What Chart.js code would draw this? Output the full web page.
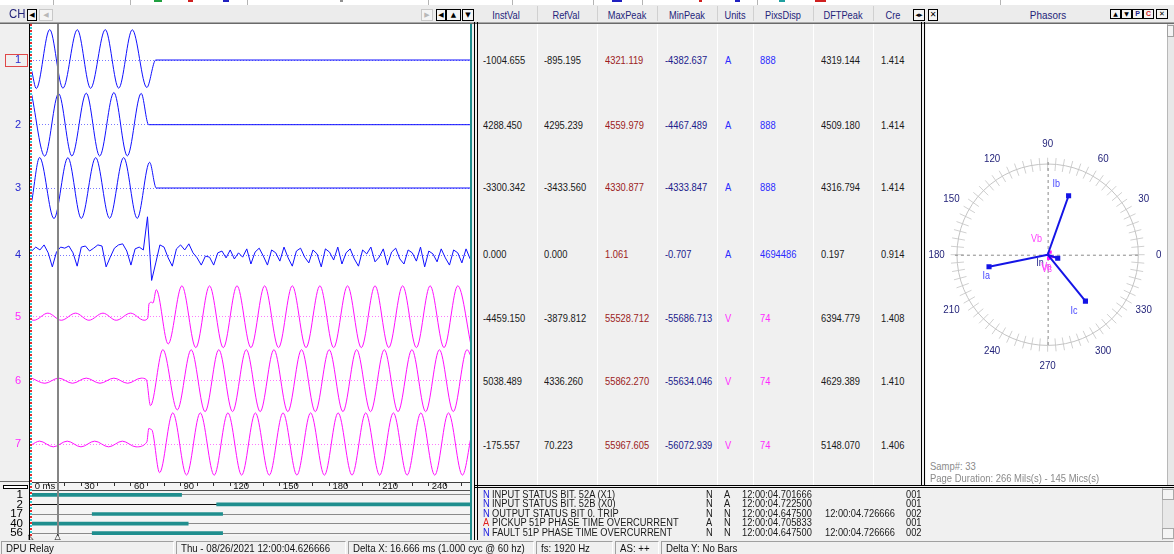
<!DOCTYPE html>
<html>
<head>
<meta charset="utf-8">
<title>DPU Relay</title>
<script src="https://cdn.jsdelivr.net/npm/chart.js@4.4.1/dist/chart.umd.min.js"></script>
<style>
  html, body { margin: 0; padding: 0; }
  body { width: 1174px; height: 554px; position: relative; overflow: hidden; background: #f0f0f0;
         font-family: 'Liberation Sans', Arial, sans-serif; }
  .a { position: absolute; box-sizing: border-box; }
  .t { position: absolute; white-space: nowrap; z-index: 4; transform-origin: 0 50%; }
  canvas { position: absolute; z-index: 2; }
</style>
</head>
<body>
<canvas id="wave" width="471" height="467" style="left:0;top:24px;width:471px;height:467px"></canvas>
<canvas id="dig" width="471" height="48" style="left:0;top:489.5px;width:471px;height:48px"></canvas>
<canvas id="phasor" width="241" height="250" style="left:926px;top:130px;width:241px;height:250px"></canvas>
<script>
// ---- channel values (time in ms, value in A or V) ----
const chLabels = ['1', '2', '3', '4', '5', '6', '7'];

const ch1T = [0, 2.8, 10.9, 18.9, 27.6, 35.6, 44.5, 52.6, 60.8, 69.6, 75.0, 266];
const ch1V = [-1500, -4050, 4321, -4000, 4300, -4020, 4310, -4000, 4290, -3900, 0, 0];

const ch2T = [0, 7.9, 16.3, 24.3, 33.0, 41.1, 49.7, 57.8, 66.2, 70.7, 266];
const ch2V = [4300, -4467, 4420, -4440, 4480, -4450, 4560, -4430, 4450, 0, 0];

const ch3T = [0, 4.8, 13.5, 21.9, 30.0, 38.7, 47.1, 55.6, 63.8, 71.3, 75.3, 266];
const ch3V = [-2000, 4331, -4334, 4300, -4320, 4310, -4300, 4320, -4310, 3650, 0, 0];

// residual channel, one sample every ch4Step ms
const ch4Step = 2.5;
const ch4V = [0.11, 0.22, 0.14, 0.28, 0.06, -0.33, 0.08, 0.22, 0.19, 0.25, 0.06, -0.31, 0.22, 0.25, 0.11, 0.19,
  0.28, 0.25, -0.33, -0.06, 0.19, 0.28, 0.31, 0.11, -0.28, 0.17, 0.22, 0.14, 1.061, -0.707, -0.22, 0.28,
  0.22, -0.08, -0.31, 0.17, 0.28, 0.14, 0.31, 0.06, -0.08, -0.28, -0.03, -0.06, -0.28, 0.06, 0.11, -0.08,
  0.14, -0.11, 0.06, -0.06, 0.17, -0.25, 0.08, 0.19, -0.03, -0.28, 0.14, 0.06, -0.17, 0.22, -0.08, -0.31,
  0.11, 0.19, -0.06, -0.22, 0.14, 0.03, -0.33, 0.17, 0.08, -0.14, 0.22, -0.25, 0.06, 0.17, -0.11, -0.31,
  0.14, 0.03, 0.22, -0.19, -0.06, 0.17, -0.28, 0.08, 0.19, -0.11, -0.25, 0.14, 0.06, -0.17, 0.22, -0.33,
  0.11, 0.03, -0.19, 0.17, -0.08, -0.28, 0.14, 0.06, -0.22, 0.17, -0.11];

const ch5T = [0, 1.4, 9.8, 17.9, 26.6, 34.6, 43.1, 51.1, 59.8, 67.9, 70.2, 70.9, 72.4, 73.3, 75.3, 82.5, 90.8,
  99.2, 107.5, 115.8, 124.1, 132.5, 140.8, 149.2, 157.5, 165.8, 174.2, 182.5, 190.9, 199.2, 207.5, 215.8,
  224.2, 232.5, 240.8, 249.2, 257.5, 265.8];
const ch5V = [-5800, -6400, 6390, -6380, 6400, -6390, 6380, -6400, 6390, -6300, -2500, 23000, 26000, 24500,
  48500, -49000, 55500, -55600, 55400, -55686, 55528, -55500, 55450, -55600, 55500, -55550, 55480, -55600,
  55500, -55650, 55450, -55550, 55500, -55600, 55480, -55500, 55450, -55300];

const ch6T = [0, 8, 16.3, 24.7, 33, 41.3, 49.7, 58, 66.2, 69.3, 71.8, 79.3, 88, 96.4, 104.8, 113.1, 121.4,
  129.7, 138.1, 146.4, 154.8, 163.1, 171.4, 179.8, 188.1, 196.4, 204.8, 213.1, 221.4, 229.8, 238.1, 246.4,
  254.8, 263.1, 266];
const ch6V = [4600, -4629, 4620, -4610, 4629, -4600, 4620, -4610, 4600, 2000, -44800, 55862, -52500, 55600,
  -55634, 55700, -55500, 55800, -55600, 55700, -55550, 55750, -55600, 55650, -55500, 55800, -55600, 55700,
  -55550, 55750, -55634, 55600, -55500, 55700, 40000];

const ch7T = [0, 4.8, 13.1, 21.5, 29.8, 38.1, 46.5, 54.8, 63.1, 69.6, 70.8, 72.0, 72.9, 77.3, 85.3, 93.6,
  101.9, 110.3, 118.6, 126.9, 135.2, 143.6, 151.9, 160.3, 168.6, 176.9, 185.2, 193.6, 201.9, 210.3, 218.6,
  226.9, 235.2, 243.6, 251.9, 260.3, 266];
const ch7V = [-1200, 5148, -5100, 5140, -5120, 5148, -5110, 5130, -5140, 3400, 28000, 26500, 24000, -51500,
  56000, -55800, 55967, -56072, 55900, -55900, 55800, -56000, 55900, -55850, 55950, -56000, 55850, -55900,
  55960, -56050, 55900, -55950, 55850, -56000, 55900, -55900, 20000];

// ---- digital channels (on / off, ms) ----
const digNames = ['1', '2', '17', '40', '56'];
const digStart = [0, 111.8, 36.6, 0, 36.6];
const digEnd = [90.6, 266, 115.4, 94.6, 115.4];

// ---- readout table ----
const colNames = ['InstVal', 'RefVal', 'MaxPeak', 'MinPeak', 'Units', 'PixsDisp', 'DFTPeak', 'Cre'];
const instVal = ['-1004.655', '4288.450', '-3300.342', '0.000', '-4459.150', '5038.489', '-175.557'];
const refVal = ['-895.195', '4295.239', '-3433.560', '0.000', '-3879.812', '4336.260', '70.223'];
const maxPeak = ['4321.119', '4559.979', '4330.877', '1.061', '55528.712', '55862.270', '55967.605'];
const minPeak = ['-4382.637', '-4467.489', '-4333.847', '-0.707', '-55686.713', '-55634.046', '-56072.939'];
const units = ['A', 'A', 'A', 'A', 'V', 'V', 'V'];
const pixsDisp = ['888', '888', '888', '4694486', '74', '74', '74'];
const dftPeak = ['4319.144', '4509.180', '4316.794', '0.197', '6394.779', '4629.389', '5148.070'];
const cre = ['1.414', '1.414', '1.414', '0.914', '1.408', '1.410', '1.406'];

// ---- phasors at the cursor ----
const phName = ['Ia', 'Ib', 'Ic', 'In', 'Va', 'Vb', 'Vc'];
const phMag = [4319.144, 4509.180, 4316.794, 770, 6394.779, 4629.389, 5148.070];
const phAng = [191.6, 70.4, 309.2, 341, 335, 45, 285];
const dialLabels = ['0', '30', '60', '90', '120', '150', '180', '210', '240', '270', '300', '330'];

// ---- event list ----
const evFlag = ['N', 'N', 'N', 'A', 'N'];
const evText = ['INPUT STATUS BIT. 52A (X1)', 'INPUT STATUS BIT. 52B (X0)', 'OUTPUT STATUS BIT 0. TRIP',
  'PICKUP 51P PHASE TIME OVERCURRENT', 'FAULT 51P PHASE TIME OVERCURRENT'];
const evState = ['N', 'N', 'N', 'A', 'N'];
const evInit = ['A', 'A', 'N', 'N', 'N'];
const evOn = ['12:00:04.701666', '12:00:04.722500', '12:00:04.647500', '12:00:04.705833', '12:00:04.647500'];
const evOff = ['', '', '12:00:04.726666', '', '12:00:04.726666'];
const evCount = ['001', '001', '002', '001', '002'];

const statusTexts = ['DPU Relay', 'Thu - 08/26/2021 12:00:04.626666', 'Delta X: 16.666 ms  (1.000 cyc @ 60 hz)',
  'fs: 1920 Hz', 'AS: ++', 'Delta Y:  No Bars'];

// ---------------------------------------------------------------------
const FONT = "'Liberation Sans', Arial, sans-serif";
const GLYPH = "'DejaVu Sans', sans-serif";
const CUR = '#1010ff';
const VOLT = '#ff10ff';
const NAVY = '#24247a';
Chart.defaults.font.family = FONT;

function box(x, y, w, h, css, z) {
  const d = document.createElement('div');
  d.className = 'a';
  d.style.cssText = `left:${x}px;top:${y}px;width:${w}px;height:${h}px;z-index:${z || 0};` + (css || '');
  document.body.appendChild(d);
  return d;
}
function line(x, y, w, h, color, z) { return box(x, y, w, h, 'background:' + color, z === undefined ? 1 : z); }
function txt(x, y, s, size, color, align, sx, extra) {
  const d = document.createElement('div');
  d.className = 't';
  d.textContent = s;
  const lh = Math.round(size * 1.25);
  const k = sx || 0.86;
  const tx = align === 'center' ? ' translateX(-50%)' : align === 'right' ? ' translateX(-100%)' : '';
  d.style.cssText = `left:${x}px;top:${y - lh / 2}px;font-size:${size}px;line-height:${lh}px;color:${color};` +
    `transform:scaleX(${k})${tx};` + (extra || '');
  document.body.appendChild(d);
  return d;
}
function btn(x, y, w, h, glyph, color, border, size, font) {
  const d = box(x, y, w, h, `border:1px solid ${border};background:#f4f4f4;color:${color};font:bold ${size}px ${font || GLYPH};` +
    `line-height:${h - 2}px;text-align:center;`, 4);
  d.textContent = glyph;
}

// ---- window chrome ----
box(0, 0, 1174, 5, 'background:#fff');
[53, 130, 247, 428, 512, 593, 642, 757, 1000].forEach(x => line(x, 0, 1, 5, '#b4b4b4'));
[[154, 8, '#20a040'], [188, 5, '#d02020'], [223, 6, '#2020c0'], [340, 3, '#909090'], [612, 10, '#2020c0'],
 [699, 3, '#d02020'], [735, 5, '#2020c0'], [779, 6, '#20a0a0'], [815, 11, '#d02020']]
  .forEach(([x, w, c]) => line(x, 0, w, 2, c));
box(0, 5, 1174, 17, 'background:#ececec');
line(0, 22, 1174, 1, '#a8a8a8');
line(0, 23, 1174, 1, '#6a6a6a');

txt(9, 14.5, 'CH', 12, NAVY, 'left', 0.95);
btn(27, 9, 10, 12, '\u25C0', '#000', '#000', 7);
btn(39, 9, 14, 12, '\u25C0', '#b8b8b8', '#c8c8c8', 7);
btn(421, 9, 12, 12, '\u25B6', '#b8b8b8', '#c8c8c8', 7);
btn(436, 9, 10, 12, '\u25C0', '#000', '#000', 7);
btn(446, 9, 15, 12, '\u25B2', '#000', '#000', 7);
btn(462, 9, 12, 12, '\u25BC', '#000', '#000', 7);

// waveform panel
box(0, 24, 29, 516, 'background:#f0f0f0');
box(30, 24, 441, 458, 'background:#fff');
box(30, 482, 441, 9, 'background:#f4f4f4');
box(30, 491, 441, 45, 'background:#f4f4f4');
line(0, 481, 30, 1, '#707070');
line(30, 490, 441, 1, '#505050');
line(29, 24, 1, 516, '#000');
line(470, 24, 2, 516, '#1f8e8e', 3);
box(5, 54, 23, 13, 'border:1px solid #e04848', 3);
box(3, 485, 25, 4, 'background:#fff;border:1px solid #000', 3);

// readout table
box(474, 24, 452, 461, 'background:#f0f0f0');
const colX = [483.3, 544, 605, 665, 725, 760, 820.7, 880.7];
const colHead = [505.5, 566, 627, 687, 735, 782.5, 842.7, 893.3];
const sepX = [536.7, 596.7, 657.3, 717.3, 752.7, 812.7, 873.3];
sepX.forEach(x => { line(x, 24, 1, 461, '#ffffff'); line(x, 6, 1, 15, '#d0d0d0'); });
colNames.forEach((c, i) => txt(colHead[i], 14.5, c, 11, NAVY, 'center', 0.84));
btn(913, 9, 12, 12, '\u25C2\u25B8', '#000', '#000', 7);
btn(928, 9, 10, 12, '\u2715', '#000', '#000', 8);
const rowY = [60, 125, 187, 253.5, 317.5, 381, 444.5];
const cols = [instVal, refVal, maxPeak, minPeak, units, pixsDisp, dftPeak, cre];
rowY.forEach((y, r) => {
  const unitColor = units[r] === 'A' ? '#2a2aff' : '#ff2aff';
  const colors = ['#1a1a1a', '#1a1a1a', '#9c1c1c', '#20208c', unitColor, unitColor, '#1a1a1a', '#1a1a1a'];
  cols.forEach((col, c) => txt(colX[c], y, col[r], 11, colors[c], 'left', 0.85));
});
line(474, 22, 1, 518, '#000', 3);
line(477, 22, 1, 518, '#000', 3);
line(921, 22, 1, 463, '#000', 3);
line(924, 22, 1, 463, '#000', 3);

// phasor panel
box(926, 24, 241, 461, 'background:#fff');
box(1167, 24, 7, 461, 'background:#e8e8e8;border-left:1px solid #b8b8b8', 1);
box(1167, 25, 7, 12, 'border:1px solid #a0a0a0;background:#f4f4f4', 3);
txt(1048, 14.5, 'Phasors', 11.5, NAVY, 'center', 0.86);
btn(1110, 9, 11, 10, '\u25B2', '#000', '#000', 6);
btn(1121, 9, 11, 10, '\u25BC', '#000', '#000', 6);
btn(1132, 9, 11, 10, 'P', '#20208c', '#000', 7, 'sans-serif');
btn(1143, 9, 11, 10, 'C', '#d02020', '#000', 7, 'sans-serif');
btn(1156, 9, 12, 10, '\u2715', '#000', '#000', 7);
txt(930, 466, 'Samp#: 33', 10.5, '#8a8a8a', 'left', 0.9);
txt(930, 478, 'Page Duration: 266 Mils(s) - 145 Mics(s)', 10.5, '#8a8a8a', 'left', 0.9);

// event list
box(478, 488, 696, 52, 'background:#f0f0f0');
line(474, 485, 700, 1, '#000', 3);
line(474, 487, 700, 1, '#000', 3);
box(1162, 488, 12, 52, 'background:#e8e8e8;border-left:1px solid #c0c0c0', 1);
box(1162, 489, 12, 11, 'border:1px solid #a8a8a8;background:#f4f4f4', 3);
box(1162, 528, 12, 11, 'border:1px solid #a8a8a8;background:#f4f4f4', 3);
const evY = [494, 503.5, 513, 522.5, 532];
evY.forEach((y, i) => {
  const fc = evFlag[i] === 'A' ? '#e02020' : '#2020e0';
  txt(483, y, evFlag[i], 10, fc, 'left', 0.93);
  txt(491.5, y, evText[i], 10, '#1a1a1a', 'left', 0.93);
  txt(705.5, y, evState[i], 10, '#1a1a1a', 'left', 0.93);
  txt(723.5, y, evInit[i], 10, '#1a1a1a', 'left', 0.93);
  txt(741.5, y, evOn[i], 10, '#1a1a1a', 'left', 0.93);
  txt(824.5, y, evOff[i], 10, '#1a1a1a', 'left', 0.93);
  txt(905.5, y, evCount[i], 10, '#1a1a1a', 'left', 0.93);
});

// status bar
box(0, 540, 1174, 14, 'background:#f0f0f0');
const statusBox = [[1, 173], [176, 170], [348, 186], [536, 77], [615, 44], [661, 513]];
statusBox.forEach(([x, w], i) => {
  box(x, 541, w, 13, 'border-top:1px solid #a0a0a0;border-left:1px solid #a0a0a0;border-right:1px solid #fff', 1);
  txt(x + 5, 548, statusTexts[i], 11, '#111', 'left', 0.88);
});

// ---- waveforms ----
const X_MIN = -1, X_MAX = 265.5;
const baseY = [36, 100.7, 164, 231, 292.7, 356.7, 420];
const AMP_PER_PX = 142, VOLT_PER_PX = 1797, RES_PER_PX = 1 / 36;
const ch4T = ch4V.map((_, i) => i * ch4Step);
const chans = [
  { t: ch1T, v: ch1V, per: AMP_PER_PX, color: CUR, smooth: true },
  { t: ch2T, v: ch2V, per: AMP_PER_PX, color: CUR, smooth: true },
  { t: ch3T, v: ch3V, per: AMP_PER_PX, color: CUR, smooth: true },
  { t: ch4T, v: ch4V, per: RES_PER_PX, color: CUR, smooth: false },
  { t: ch5T, v: ch5V, per: VOLT_PER_PX, color: VOLT, smooth: true },
  { t: ch6T, v: ch6V, per: VOLT_PER_PX, color: VOLT, smooth: true },
  { t: ch7T, v: ch7V, per: VOLT_PER_PX, color: VOLT, smooth: true }
];
const waveSets = chans.map((c, k) => ({
  data: c.t.map((t, i) => ({ x: t, y: baseY[k] - c.v[i] / c.per })),
  borderColor: c.color,
  borderWidth: 1,
  pointRadius: 0,
  tension: 0,
  cubicInterpolationMode: c.smooth ? 'monotone' : 'default',
  fill: false
}));

const noPadX = s => { s.paddingLeft = 0; s.paddingRight = 0; };
const noPadY = s => { s.paddingTop = 0; s.paddingBottom = 0; };

new Chart(document.getElementById('wave'), {
  type: 'line',
  data: { datasets: waveSets },
  options: {
    animation: false, responsive: false, events: [],
    layout: { padding: 0 },
    plugins: { legend: { display: false }, tooltip: { enabled: false } },
    scales: {
      x: {
        type: 'linear', min: X_MIN, max: X_MAX, position: 'bottom',
        afterFit: s => { s.height = 9; noPadX(s); },
        grid: { drawOnChartArea: false, drawTicks: true, tickLength: 4, tickColor: '#303030' },
        border: { display: true, color: '#404040', width: 1 },
        ticks: {
          stepSize: 10, includeBounds: false, autoSkip: false, maxRotation: 0,
          align: 'start', labelOffset: 3, padding: -5, color: '#111', font: { size: 9.5 },
          callback: v => v % 30 === 0 ? (v === 0 ? '0 ms' : String(v)) : ''
        }
      },
      y: {
        type: 'linear', reverse: true, min: 0, max: 458,
        afterFit: s => { s.width = 30; noPadY(s); },
        afterBuildTicks: s => { s.ticks = baseY.map(v => ({ value: v })); },
        grid: { drawTicks: false, lineWidth: 1, color: c => c.index < 4 ? '#7878ff' : '#ff78ff' },
        border: { display: false, dash: [1, 2] },
        ticks: {
          autoSkip: false, padding: 9, font: { size: 11 },
          color: c => c.index < 4 ? '#2828d0' : '#ff28ff',
          callback: (v, i) => chLabels[i]
        }
      }
    }
  }
});

// ---- digital channels ----
new Chart(document.getElementById('dig'), {
  type: 'bar',
  data: {
    labels: digNames,
    datasets: [{
      data: digNames.map((_, i) => [digStart[i], digEnd[i]]),
      backgroundColor: '#1f8e8e', borderWidth: 0, barThickness: 3
    }]
  },
  options: {
    indexAxis: 'y', animation: false, responsive: false, events: [],
    layout: { padding: 0 },
    plugins: { legend: { display: false }, tooltip: { enabled: false } },
    scales: {
      x: { type: 'linear', min: X_MIN, max: X_MAX, display: false },
      y: {
        type: 'category', offset: true,
        afterFit: s => { s.width = 30; noPadY(s); },
        grid: { offset: false, drawTicks: false, lineWidth: 1, color: c => c.index === 1 ? '#101010' : '#8a8a8a' },
        border: { display: false },
        ticks: { autoSkip: false, padding: 7, color: '#000', font: { size: 11.5 } }
      }
    }
  }
});

// ---- phasor diagram ----
const DIAL_R = 90.7;
const I_PX = 0.01458, V_PX = 0.0008;
const phColor = ['#1414e6', '#1414e6', '#1414e6', '#1414e6', VOLT, VOLT, VOLT];
const phLabelColor = ['#4848ff', '#4848ff', '#4848ff', '#2a2a90', '#ff40ff', '#ff40ff', '#ff40ff'];
const phLabelOff = [[-2.7, 9.3], [-12.3, -11.7], [-11.4, 10.6], [-17.6, 5.4], [-5.6, 10.8], [-13.6, -12.8], [-2, 11]];

const phSets = phName.map((n, i) => {
  const k = i < 4 ? I_PX : V_PX;
  const a = phAng[i] * Math.PI / 180;
  return {
    label: n,
    data: [{ x: 0, y: 0 }, { x: phMag[i] * k * Math.cos(a), y: phMag[i] * k * Math.sin(a) }],
    showLine: true,
    borderColor: phColor[i], backgroundColor: phColor[i],
    borderWidth: i < 4 ? 2 : 1.5,
    pointStyle: 'rect',
    pointRadius: c => c.dataIndex === 1 ? (i < 4 ? 2.2 : 1.2) : 0,
    labelColor: phLabelColor[i], labelOff: phLabelOff[i]
  };
});

function squeezedText(ctx, s, x, y, k) {
  ctx.save();
  ctx.translate(x, y);
  ctx.scale(k, 1);
  ctx.fillText(s, 0, 0);
  ctx.restore();
}

const dialPlugin = {
  id: 'dial',
  beforeDatasetsDraw(chart) {
    const { ctx, scales: { x, y } } = chart;
    const cx = x.getPixelForValue(0), cy = y.getPixelForValue(0);
    ctx.save();
    ctx.lineWidth = 1;
    ctx.strokeStyle = '#d0d0d0';
    ctx.beginPath();
    for (let d = 0; d < 360; d += 5) {
      const a = d * Math.PI / 180;
      ctx.moveTo(cx + 84 * Math.cos(a), cy - 84 * Math.sin(a));
      ctx.lineTo(cx + 97 * Math.cos(a), cy - 97 * Math.sin(a));
    }
    ctx.stroke();
    ctx.strokeStyle = '#c4c4c4';
    ctx.beginPath();
    ctx.arc(cx, cy, DIAL_R, 0, Math.PI * 2);
    ctx.stroke();
    ctx.strokeStyle = '#8a8a8a';
    ctx.setLineDash([3, 3]);
    ctx.beginPath();
    ctx.moveTo(cx - DIAL_R - 2, cy + 0.5); ctx.lineTo(cx + DIAL_R + 2, cy + 0.5);
    ctx.moveTo(cx + 0.5, cy - DIAL_R - 2); ctx.lineTo(cx + 0.5, cy + DIAL_R + 2);
    ctx.stroke();
    ctx.setLineDash([]);
    ctx.fillStyle = NAVY;
    ctx.font = `11.5px ${FONT}`;
    ctx.textAlign = 'center';
    ctx.textBaseline = 'middle';
    dialLabels.forEach((s, i) => {
      const a = i * 30 * Math.PI / 180;
      squeezedText(ctx, s, cx + 111 * Math.cos(a), cy - 111 * Math.sin(a), 0.85);
    });
    ctx.restore();
  },
  afterDatasetsDraw(chart) {
    const ctx = chart.ctx;
    ctx.save();
    ctx.font = `10px ${FONT}`;
    ctx.textAlign = 'center';
    ctx.textBaseline = 'middle';
    chart.data.datasets.forEach((ds, i) => {
      const tip = chart.getDatasetMeta(i).data[1];
      ctx.fillStyle = ds.labelColor;
      squeezedText(ctx, ds.label, tip.x + ds.labelOff[0], tip.y + ds.labelOff[1], 0.9);
    });
    ctx.restore();
  }
};

new Chart(document.getElementById('phasor'), {
  type: 'scatter',
  data: { datasets: phSets },
  options: {
    animation: false, responsive: false, events: [],
    layout: { padding: 0 },
    plugins: { legend: { display: false }, tooltip: { enabled: false } },
    scales: {
      x: { type: 'linear', min: -121.7, max: 119.3, display: false },
      y: { type: 'linear', min: -125.3, max: 124.7, display: false }
    }
  },
  plugins: [dialPlugin]
});

// ---- cursors over the traces ----
box(30, 24, 1.5, 512, 'background:repeating-linear-gradient(to bottom,#e03030 0 2px,#fff 2px 3px,#30c8d0 3px 5px,#fff 5px 6px)', 5);
line(57, 24, 1.5, 512, '#858585', 5);
txt(57.7, 537, '\u25B3', 8, '#000', 'center', 1, `font-family:${GLYPH};z-index:6`);
txt(31, 537, '\u25FA', 7, '#000', 'center', 1, `font-family:${GLYPH};z-index:6`);
</script>
</body>
</html>
